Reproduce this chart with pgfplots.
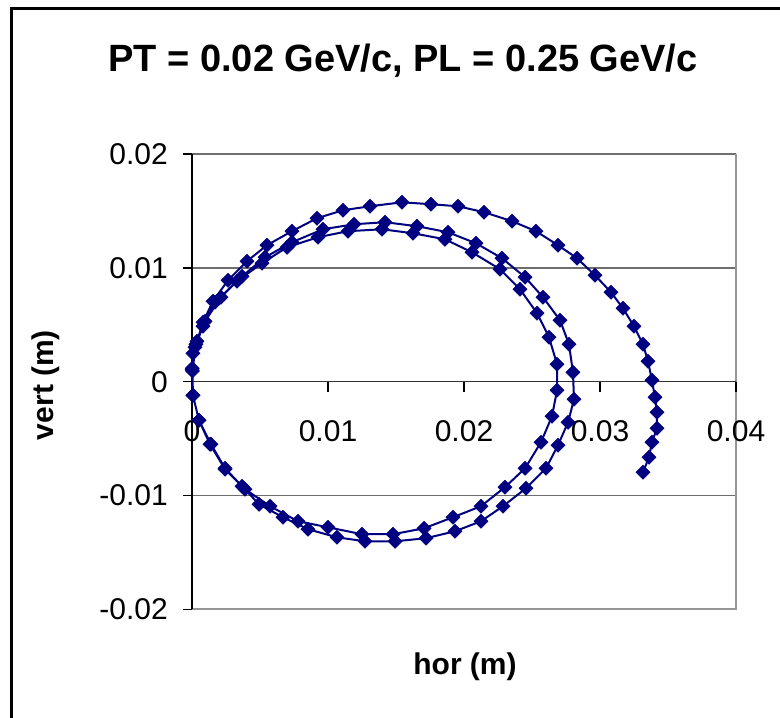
\documentclass[border=0pt]{standalone}
\usepackage{fontspec}
\setmainfont{Liberation Sans}
\usepackage{pgfplots}
\usepackage{pgfplotstable}
\pgfplotsset{compat=1.18}
\definecolor{navy}{RGB}{0,0,128}
\definecolor{gridc}{RGB}{110,110,110}
\definecolor{framec}{RGB}{150,150,150}
\pgfplotstableread{
x y
0 0.00110
0.00022 0.00303
0.00081 0.00487
0.00169 0.00698
0.00331 0.00883
0.00515 0.01041
0.00699 0.01181
0.00926 0.01269
0.01147 0.01322
0.01397 0.01339
0.01625 0.01304
0.01860 0.01251
0.02059 0.01137
0.02265 0.00988
0.02412 0.00812
0.02537 0.00602
0.02625 0.00391
0.02684 0.00154
0.02684 -0.00075
0.02647 -0.00303
0.02566 -0.00531
0.02449 -0.00760
0.02301 -0.00926
0.02125 -0.01093
0.01919 -0.01190
0.01706 -0.01287
0.01478 -0.01339
0.01250 -0.01339
0.01000 -0.01278
0.00779 -0.01225
0.00574 -0.01093
0.00390 -0.00944
0.00243 -0.00768
0.00132 -0.00549
0.00051 -0.00338
0.00007 -0.00119
0.00003 0.00095
0.00029 0.00329
0.00096 0.00531
0.00213 0.00742
0.00368 0.00926
0.00537 0.01093
0.00735 0.01225
0.00963 0.01339
0.01191 0.01383
0.01419 0.01401
0.01654 0.01366
0.01882 0.01313
0.02088 0.01216
0.02279 0.01085
0.02449 0.00918
0.02581 0.00742
0.02706 0.00540
0.02772 0.00329
0.02801 0.00083
0.02809 -0.00154
0.02765 -0.00356
0.02691 -0.00558
0.02603 -0.00760
0.02456 -0.00935
0.02287 -0.01093
0.02125 -0.01225
0.01934 -0.01313
0.01721 -0.01374
0.01493 -0.01401
0.01272 -0.01401
0.01066 -0.01366
0.00853 -0.01295
0.00669 -0.01190
0.00493 -0.01076
0.00368 -0.00918
0.00243 -0.00760
0.00140 -0.00549
0.00051 -0.00338
0.00007 -0.00119
0.00002 0.00119
0.00007 0.00250
0.00037 0.00356
0.00081 0.00523
0.00154 0.00707
0.00265 0.00891
0.00404 0.01058
0.00551 0.01199
0.00735 0.01322
0.00919 0.01436
0.01110 0.01506
0.01309 0.01541
0.01544 0.01576
0.01757 0.01559
0.01956 0.01541
0.02147 0.01489
0.02353 0.01410
0.02529 0.01322
0.02691 0.01199
0.02831 0.01085
0.02963 0.00935
0.03081 0.00786
0.03169 0.00645
0.03250 0.00487
0.03316 0.00329
0.03353 0.00180
0.03382 0.00013
0.03404 -0.00136
0.03419 -0.00268
0.03419 -0.00408
0.03382 -0.00531
0.03360 -0.00663
0.03316 -0.00795
}\traj
\begin{document}
\begin{tikzpicture}
\useasboundingbox (0,0) rectangle (780bp,718bp);
\draw[line width=3bp] (11bp,-40bp) -- (11bp,709bp) -- (830bp,709bp);
\begin{axis}[at={(192bp,108.5bp)}, anchor=south west,
  width=544bp, height=455.5bp, scale only axis,
  xmin=0, xmax=0.04, ymin=-0.02, ymax=0.02,
  axis lines=none, ticks=none, clip=false]
  % grid and frame
  \draw[gridc, line width=1.3bp] (axis cs:0,0.01) -- (axis cs:0.04,0.01);
  \draw[gridc, line width=1.3bp] (axis cs:0,-0.01) -- (axis cs:0.04,-0.01);
  \draw[gridc, line width=1.3bp] (axis cs:0,0.02) -- (axis cs:0.04,0.02);
  \draw[framec, line width=2bp] (axis cs:0,-0.02) -- (axis cs:0.04,-0.02) -- (axis cs:0.04,0.02);
  % axes
  \draw[black, line width=1.4bp] (axis cs:0,-0.02) -- (axis cs:0,0.02);
  \draw[black!80, line width=1.4bp] (axis cs:0,0) -- (axis cs:0.04,0);
  \pgfplotsinvokeforeach{-0.02,-0.01,0,0.01,0.02}{
    \draw[black, line width=1.4bp] (axis cs:0,#1) -- ([xshift=-9bp]axis cs:0,#1);
    \node[anchor=east, inner sep=0pt, xshift=-24bp, font=\fontsize{30bp}{36bp}\selectfont] at (axis cs:0,#1) {#1};
  }
  \pgfplotsinvokeforeach{0,0.01,0.02,0.03,0.04}{
    \draw[black, line width=1.4bp] (axis cs:#1,0) -- ([yshift=-10bp]axis cs:#1,0);
    \node[anchor=north, inner sep=0pt, yshift=-38.5bp, font=\fontsize{30bp}{36bp}\selectfont] at (axis cs:#1,0) {#1};
  }
  \addplot[color=navy, line width=2bp, mark=square*, mark size=5bp,
    mark options={solid, rotate=45, fill=navy, draw=navy, line width=0.5bp}] table[x=x, y=y] {\traj};
\end{axis}
\node[anchor=base, inner sep=0pt, font=\fontsize{38bp}{44bp}\selectfont\bfseries] at (403bp,646bp) {PT = 0.02 GeV/c, PL = 0.25 GeV/c};
\node[anchor=base, inner sep=0pt, font=\fontsize{30bp}{36bp}\selectfont\bfseries] at (465bp,43bp) {hor (m)};
\node[rotate=90, inner sep=0pt, font=\fontsize{30bp}{36bp}\selectfont\bfseries] at (46bp,333bp) {vert (m)};
\end{tikzpicture}
\end{document}
